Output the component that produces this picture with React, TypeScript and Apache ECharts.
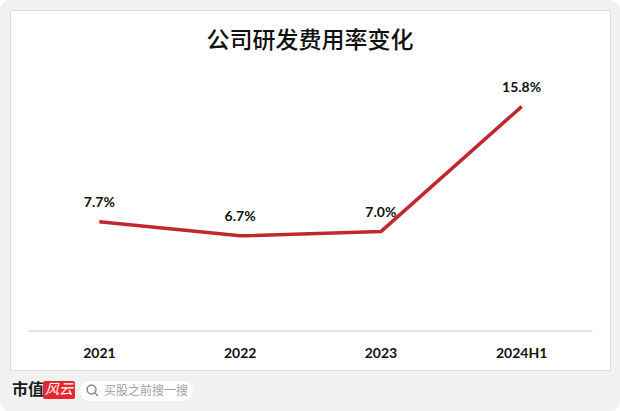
import React, { useEffect, useRef } from "react";
import * as echarts from "echarts";

const categories = ["2021", "2022", "2023", "2024H1"];
const rdRatio = [7.7, 6.7, 7.0, 15.8];
const chartTitle = "公司研发费用率变化";
const brandText = "市值";
const brandLogo = "风云";
const searchText = "买股之前搜一搜";

export default function App() {
  const ref = useRef<HTMLDivElement>(null);
  useEffect(() => {
    document.body.style.margin = "0";
    const chart = echarts.init(ref.current!, undefined, { renderer: "svg" });
    chart.setOption({
      animation: false,
      backgroundColor: "#ffffff",
      title: {
        text: chartTitle,
        left: "center",
        top: 21,
        textStyle: {
          fontFamily: "Noto Sans CJK SC",
          fontSize: 23,
          fontWeight: 500,
          color: "#111111",
        },
      },
      graphic: [
        {
          type: "rect",
          z: -10,
          silent: true,
          shape: { x: 0, y: 0, width: 620, height: 411, r: 10 },
          style: { fill: "#f1f1f1" },
        },
        {
          type: "rect",
          z: -9,
          silent: true,
          shape: { x: 10.5, y: 10.5, width: 600, height: 360 },
          style: { fill: "#ffffff", stroke: "#dcdcdc", lineWidth: 1 },
        },
        {
          type: "text",
          left: 12,
          top: 380,
          style: {
            text: brandText,
            fontFamily: "Noto Sans CJK SC",
            fontSize: 16,
            fontWeight: "bold",
            fill: "#1a1a1a",
          },
        },
        {
          type: "rect",
          shape: { x: 43, y: 381, width: 32, height: 18, r: 2 },
          style: { fill: "#e8262d" },
        },
        {
          type: "text",
          left: 45,
          top: 381,
          style: {
            text: brandLogo,
            fontFamily: "Noto Sans CJK SC",
            fontSize: 14,
            fontStyle: "italic",
            fill: "#ffffff",
          },
        },
        {
          type: "rect",
          shape: { x: 80, y: 381, width: 113, height: 20, r: 10 },
          style: { fill: "#ffffff" },
        },
        {
          type: "circle",
          shape: { cx: 91.5, cy: 389.5, r: 4.5 },
          style: { fill: "none", stroke: "#888888", lineWidth: 1.5 },
        },
        {
          type: "line",
          shape: { x1: 94.8, y1: 392.8, x2: 98, y2: 396 },
          style: { stroke: "#888888", lineWidth: 1.5 },
        },
        {
          type: "text",
          left: 104,
          top: 383,
          style: {
            text: searchText,
            fontFamily: "Noto Sans CJK SC",
            fontSize: 12,
            fill: "#a0a0a0",
          },
        },
      ],
      grid: { left: 29, right: 28, top: 47, bottom: 80 },
      xAxis: {
        type: "category",
        data: categories,
        axisLine: { lineStyle: { color: "#d9d9d9", width: 1.5 } },
        axisTick: { show: false },
        axisLabel: {
          margin: 14,
          fontFamily: "Lato",
          fontWeight: "bold",
          fontSize: 14,
          color: "#111111",
        },
      },
      yAxis: {
        type: "value",
        min: 0,
        max: 20,
        show: false,
        splitLine: { show: false },
      },
      series: [
        {
          type: "line",
          data: rdRatio,
          symbol: "circle",
          symbolSize: 1,
          itemStyle: { color: "#c1272d" },
          lineStyle: { color: "#c1272d", width: 3.5 },
          label: {
            show: true,
            position: "top",
            distance: 13,
            formatter: (p: any) => p.value.toFixed(1) + "%",
            fontFamily: "Lato",
            fontWeight: "bold",
            fontSize: 14,
            color: "#111111",
          },
        },
      ],
    });
    return () => chart.dispose();
  }, []);
  return (
    <div
      ref={ref}
      style={{ position: "absolute", left: 0, top: 0, width: 620, height: 411 }}
    />
  );
}
